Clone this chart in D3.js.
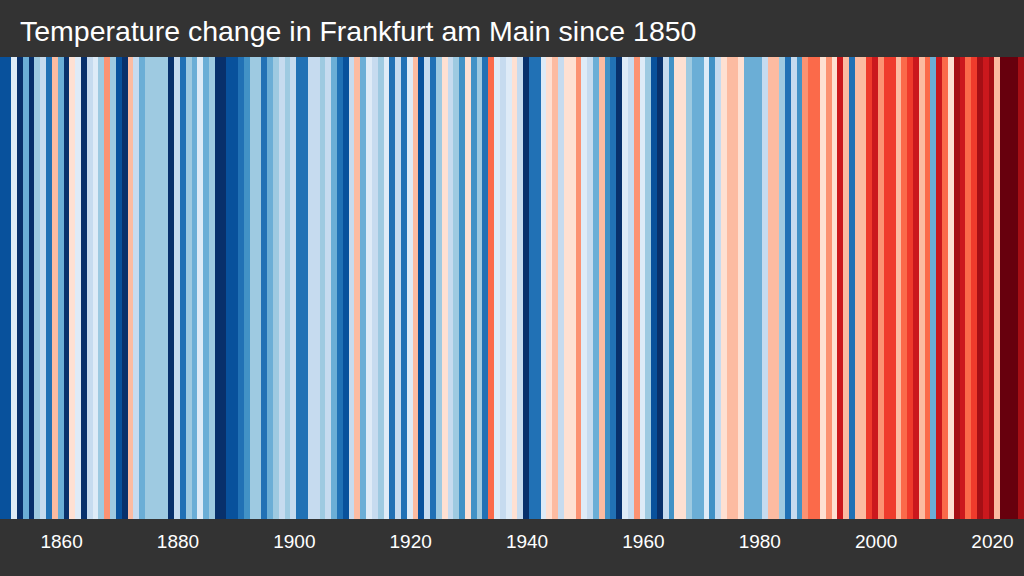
<!DOCTYPE html>
<html>
<head>
<meta charset="utf-8">
<script src="https://cdn.jsdelivr.net/npm/d3@7"></script>
<style>
  html, body { margin: 0; padding: 0; background: #333333; }
  svg { display: block; }
  .title { fill: #ffffff; font-family: "Liberation Sans", Arial, sans-serif; font-size: 28.5px; }
  .xAxis text { fill: #ffffff; font-family: "Liberation Sans", Arial, sans-serif; font-size: 19px; }
  .xAxis path, .xAxis line { display: none; }
</style>
</head>
<body>
<script>
//data: yearly temperature anomaly (deg C vs. 1971-2000), read from the stripes
var firstYear = 1850;
var anomalies = [
  -1.9, -1.9, -0.15, -2.2, -1.05, -2.2, -0.75, -0.45, -1.65, 0.45,   //1850
  -1.05, -2.2, 0.15, -0.15, -2.2, -0.45, -0.15, -0.75, 0.75, -0.75,  //1860
  -1.9, -2.2, 0.45, -0.45, -1.05, -0.75, -0.75, -0.75, -0.75, -2.2,  //1870
  -0.45, -1.65, -0.75, -1.05, -0.15, -1.05, -0.75, -2.2, -2.2, -1.9, //1880
  -1.9, -1.65, -1.35, -0.75, -0.75, -1.65, -1.05, -0.75, -0.45, -0.75, //1890
  -0.45, -1.65, -1.65, -0.45, -0.45, -0.75, -0.45, -1.05, -1.65, -1.9, //1900
  -0.45, 0.45, -1.05, -0.15, -0.45, -0.75, -0.15, -1.65, -0.45, -1.65, //1910
  -0.15, 0.45, -1.9, -0.45, -1.65, -0.75, 0.15, -0.45, -0.75, -1.35, //1920
  0.15, -1.35, -0.75, -1.65, 1.05, -0.15, -0.45, -0.15, 0.15, -0.45, //1930
  -2.2, -1.65, -1.65, -0.15, 0.15, 0.45, -0.45, 0.15, 0.15, 0.75,    //1940
  -0.15, -0.45, -1.05, 0.45, -1.35, -1.65, -2.2, -0.15, -0.45, 0.75, //1950
  -0.15, -0.75, -1.9, -2.2, -0.45, -1.35, 0.15, 0.15, -0.75, -1.05,  //1960
  -1.05, -0.15, -1.35, -0.45, 0.15, 0.45, 0.45, 0.15, -1.05, -1.05,  //1970
  -1.05, -0.45, 0.45, 0.45, -0.75, -1.65, -0.45, -1.35, 0.75, 1.05,  //1980
  1.05, 0.15, 0.75, 0.15, 1.65, 0.45, -1.65, 0.45, 0.45, 1.35,       //1990
  1.65, 0.75, 1.35, 1.35, 0.45, 1.05, 1.35, 1.65, 0.45, 1.05,        //2000
  -1.05, 1.65, 1.05, 0.15, 1.95, 1.65, 1.05, 1.35, 1.95, 1.65,       //2010
  1.95, 0.45, 2.25, 2.25, 2.25, 1.95                                 //2020
];
var tickYears = [1860, 1880, 1900, 1920, 1940, 1960, 1980, 2000, 2020];
var stripeColors = ["#08306b", "#08519c", "#2171b5", "#4292c6", "#6baed6", "#9ecae1", "#c6dbef", "#deebf7",
                    "#fee0d2", "#fcbba1", "#fc9272", "#fb6a4a", "#ef3b2c", "#cb181d", "#a50f15", "#67000d"];
var titleText = "Temperature change in Frankfurt am Main since 1850";

var years = anomalies.map(function(d, i){ return firstYear + i; });

//global layout
var width = 1024, height = 576;
var margin = {top: 57, bottom: 57};

var xScale = d3.scaleLinear()
               .domain([firstYear, firstYear + anomalies.length])
               .range([0, width]);

var colorScale = d3.scaleQuantize()
                   .domain([-2.4, 2.4])
                   .range(stripeColors);

var xAxis = d3.axisBottom()
              .scale(xScale)
              .tickValues(tickYears.map(function(y){ return y + 0.5; }))
              .tickFormat(function(d){ return Math.floor(d); })
              .tickSize(0)
              .tickPadding(16);

var _svg = d3.select("body")
             .append("svg")
             .attr("width", width)
             .attr("height", height);

    _svg.append("rect")
        .attr("width", width)
        .attr("height", height)
        .attr("fill", "#333333");

    //the stripes
    _svg.append("g")
        .selectAll("rect")
        .data(anomalies)
        .enter()
        .append("rect")
        .attr("x", function(d, i){ return Math.floor(xScale(years[i])); })
        .attr("width", function(d, i){ return Math.ceil(xScale(years[i] + 1)) - Math.floor(xScale(years[i])); })
        .attr("y", margin.top)
        .attr("height", height - margin.top - margin.bottom)
        .attr("fill", function(d){ return colorScale(d); })
        .attr("shape-rendering", "crispEdges");

    _svg.append("g")
        .attr("class", "xAxis")
        .attr("transform", "translate(0," + (height - margin.bottom) + ")")
        .call(xAxis);

    _svg.append("text")
        .attr("class", "title")
        .attr("x", 20)
        .attr("y", 41)
        .text(titleText);
</script>
</body>
</html>
